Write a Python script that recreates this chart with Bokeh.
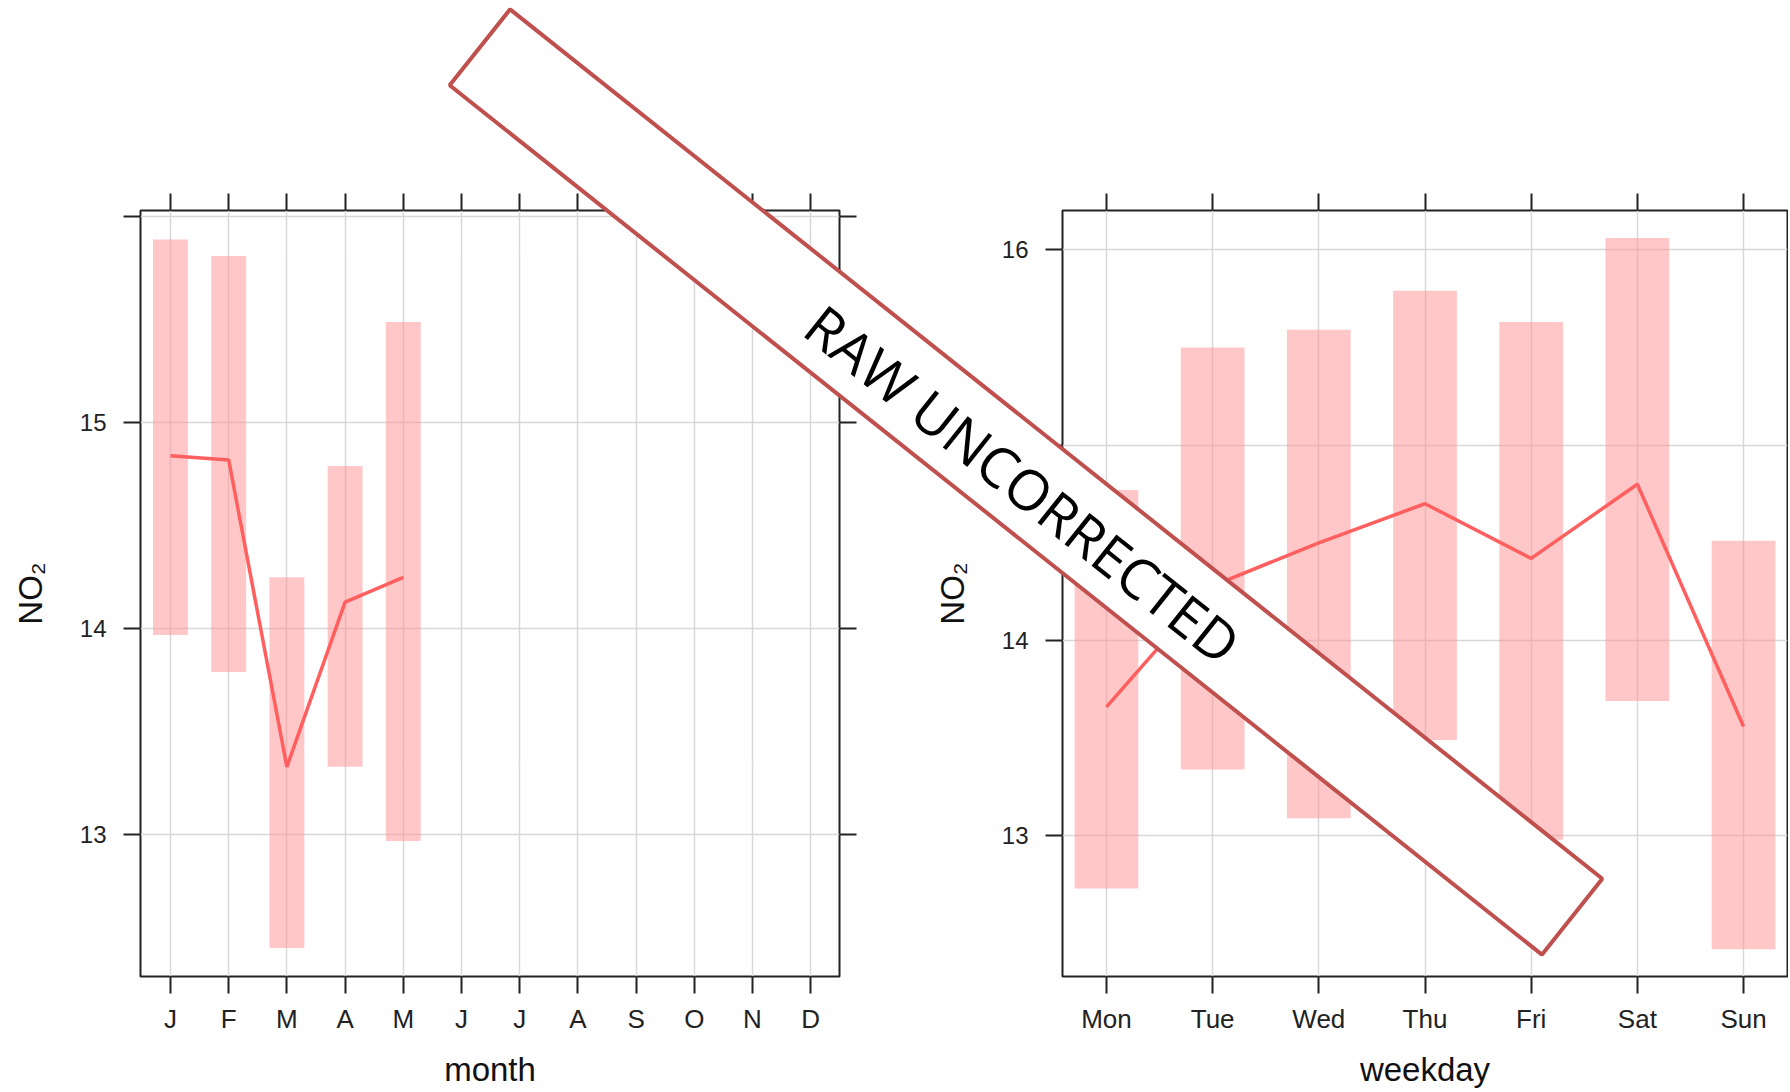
from bokeh.plotting import figure
from bokeh.models import (Range1d, FixedTicker, LinearAxis, GridBox, Label,
                          CustomJSTickFormatter, ColumnDataSource)
from bokeh.embed import file_html
from bokeh.resources import INLINE

# ---------------- data ----------------
month_labels = ["J", "F", "M", "A", "M", "J", "J", "A", "S", "O", "N", "D"]
month_mean = [14.84, 14.82, 13.33, 14.13, 14.25]
month_lower = [13.97, 13.79, 12.45, 13.33, 12.97]
month_upper = [15.89, 15.81, 14.25, 14.79, 15.49]
month_yticks = [13, 14, 15, 16]

weekday_labels = ["Mon", "Tue", "Wed", "Thu", "Fri", "Sat", "Sun"]
weekday_mean = [13.66, 14.28, 14.50, 14.70, 14.42, 14.80, 13.56]
weekday_lower = [12.73, 13.34, 13.09, 13.49, 12.98, 13.69, 12.42]
weekday_upper = [14.77, 15.50, 15.59, 15.79, 15.63, 16.06, 14.51]
weekday_yticks = [13, 14, 15, 16]

stamp_text = "RAW UNCORRECTED"

# ---------------- style ----------------
H = 1092
BAR = "#FF8F8F"
LINE = "#FF5F5F"
GRID = "#D8D8D8"
INK = "#222222"
FONT = "Liberation Sans"


def panel(labels, mean, lower, upper, xr, yr, yticks, hide_ylabels, width,
          mb_left, mb_right, xlabel, right_axis=True):
    p = figure(width=width, height=H, x_range=Range1d(*xr), y_range=Range1d(*yr),
               output_backend="svg", toolbar_location=None,
               min_border_left=mb_left, min_border_right=mb_right,
               min_border_top=210, min_border_bottom=H - 976)
    p.frame_align = False
    p.background_fill_color = "white"
    p.border_fill_color = "white"
    p.outline_line_color = INK
    p.outline_line_width = 2

    xt = list(range(1, len(labels) + 1))
    src = ColumnDataSource(dict(x=list(range(1, len(mean) + 1)), mean=mean,
                                lower=lower, upper=upper))
    p.vbar(x="x", width=0.6, bottom="lower", top="upper", source=src,
           fill_color=BAR, fill_alpha=0.5, line_color=None)
    p.line(x="x", y="mean", source=src, line_color=LINE, line_width=3.5)

    xax = p.xaxis[0]
    xax.ticker = FixedTicker(ticks=xt)
    xax.major_label_overrides = {i: l for i, l in zip(xt, labels)}
    xax.axis_label = xlabel
    yax = p.yaxis[0]
    yax.ticker = FixedTicker(ticks=yticks)
    yax.major_label_overrides = {t: "" for t in hide_ylabels}
    yax.axis_label = "NO\u2082"

    top = LinearAxis(ticker=FixedTicker(ticks=xt),
                     formatter=CustomJSTickFormatter(code="return ''"))
    p.add_layout(top, "above")
    axes = [xax, yax, top]
    if right_axis:
        rgt = LinearAxis(ticker=FixedTicker(ticks=yticks),
                         formatter=CustomJSTickFormatter(code="return ''"))
        p.add_layout(rgt, "right")
        axes.append(rgt)

    for ax in axes:
        ax.axis_line_color = None
        ax.major_tick_line_color = INK
        ax.major_tick_line_width = 2
        ax.major_tick_out = 17
        ax.major_tick_in = 0
        ax.minor_tick_line_color = None
        ax.major_label_text_font = FONT
        ax.major_label_text_color = INK
        ax.axis_label_text_font = FONT
        ax.axis_label_text_font_style = "normal"
        ax.axis_label_text_font_size = "33px"
        ax.axis_label_text_color = "#111111"
    top.major_label_standoff = 0
    xax.major_label_text_font_size = "26px"
    xax.major_label_standoff = 10
    xax.axis_label_standoff = 14
    yax.major_label_text_font_size = "24px"
    yax.major_label_standoff = 17
    yax.axis_label_standoff = 28

    p.xgrid.ticker = FixedTicker(ticks=xt)
    p.ygrid.ticker = FixedTicker(ticks=yticks)
    for g in (p.xgrid[0], p.ygrid[0]):
        g.grid_line_color = GRID
        g.grid_line_width = 1.5
    return p


W1 = 930
W2 = 858
left = panel(month_labels, month_mean, month_lower, month_upper,
             (0.485, 12.495), (12.312, 16.031), month_yticks, [16],
             W1, 140, W1 - 140 - 699, "month")
right = panel(weekday_labels, weekday_mean, weekday_lower, weekday_upper,
              (0.586, 7.414), (12.28, 16.201), weekday_yticks, [],
              W2, 1061 - W1, 1, "weekday", right_axis=False)

# ---------------- overlay stamp ----------------
TW = W1 + W2
stamp = figure(width=TW, height=H, x_range=Range1d(0, TW), y_range=Range1d(0, H),
               output_backend="svg", toolbar_location=None,
               x_axis_location=None, y_axis_location=None, min_border=0)
stamp.frame_align = False
stamp.outline_line_color = None
stamp.background_fill_color = None
stamp.border_fill_color = None
stamp.grid.visible = False

STAMP_CX, STAMP_CY = 1025.5, H - 481.5
STAMP_ANGLE = -0.6723
stamp.rect(x=[STAMP_CX], y=[STAMP_CY], width=[1396], height=[97], angle=STAMP_ANGLE,
           width_units="screen", height_units="screen",
           fill_color="white", line_color="#C0504D", line_width=4)
stamp.add_layout(Label(x=1023, y=H - 483, text=stamp_text, angle=STAMP_ANGLE,
                       text_align="center", text_baseline="middle",
                       text_font="Open Sans", text_font_size="56px",
                       text_color="black"))

layout = GridBox(children=[(left, 0, 0), (right, 0, 1), (stamp, 0, 0, 1, 2)], spacing=0)

open("out.html", "w").write(file_html(layout, INLINE))
